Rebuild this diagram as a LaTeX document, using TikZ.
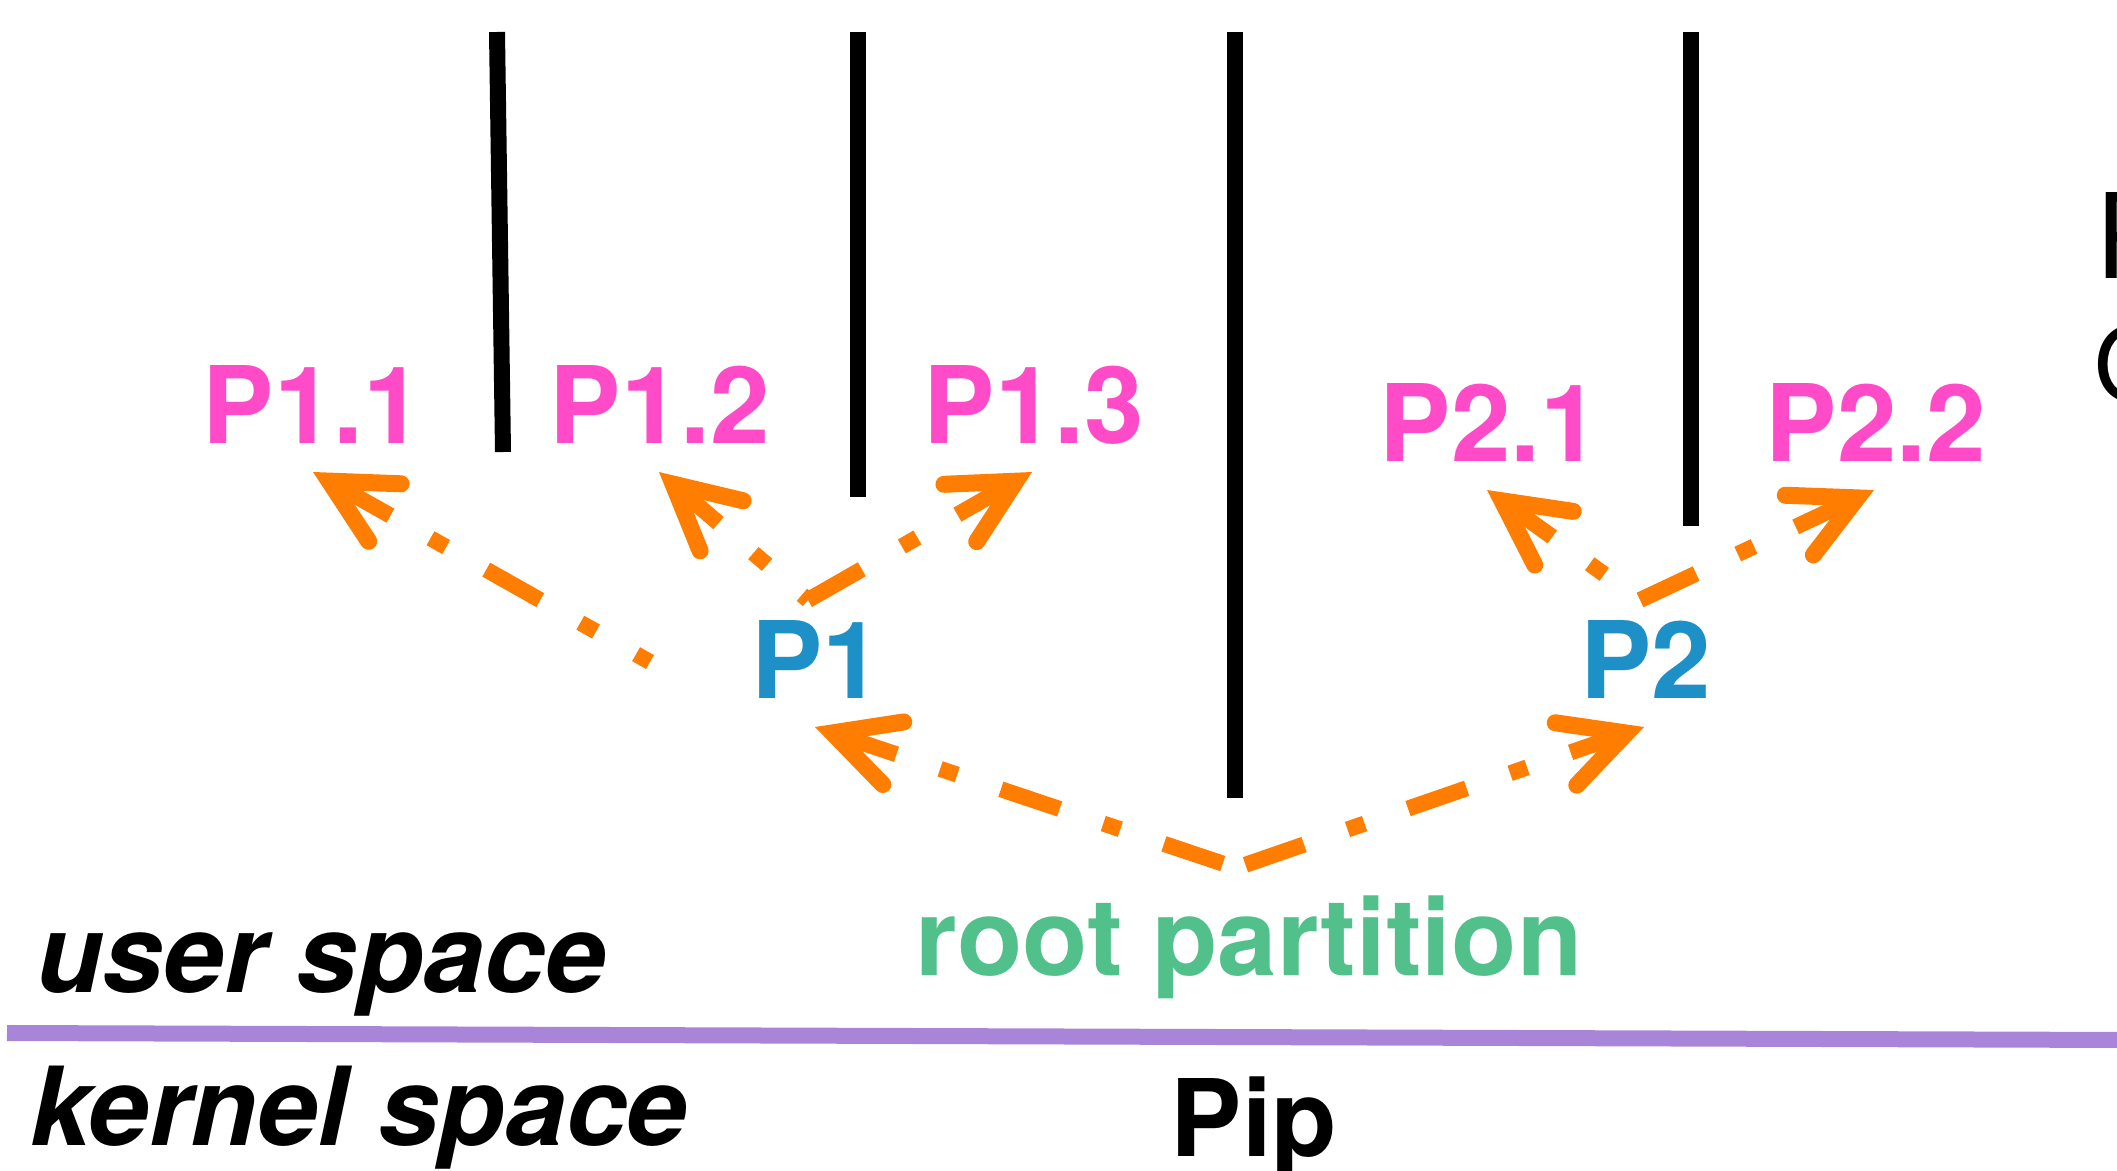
\documentclass[tikz,border=0pt]{standalone}
\usepackage{fontspec}
\setmainfont{TeX Gyre Heros}
\usetikzlibrary{arrows.meta}

\definecolor{partpink}{RGB}{255,75,200}
\definecolor{parentblue}{RGB}{30,144,200}
\definecolor{rootgreen}{RGB}{82,192,138}
\definecolor{linkorange}{RGB}{255,125,0}
\definecolor{splitpurple}{RGB}{168,133,216}

\begin{document}
\begin{tikzpicture}[x=1pt,y=-1pt,
  lbl/.style={inner sep=0pt, anchor=base, font=\fontsize{107pt}{120pt}\selectfont\bfseries},
  childlbl/.style={lbl, text=partpink},
  parentlbl/.style={lbl, text=parentblue},
  spacelbl/.style={inner sep=0pt, anchor=base west, font=\fontsize{109pt}{120pt}\selectfont\bfseries\itshape},
  divider/.style={line width=16pt, black},
  link/.style={draw=linkorange, line width=16pt,
    dash pattern=on 62pt off 46pt on 18pt off 46pt,
    -{Straight Barb[length=64pt, width=66pt, line width=17pt, line cap=round, line join=miter]}},
]
\useasboundingbox (0,0) rectangle (2117,1170);
\clip (0,0) rectangle (2117,1170);

% partition separators
\draw[divider] (497,32) -- (503,452);
\draw[divider] (858,32) -- (858,497);
\draw[divider] (1235,32) -- (1235,798);
\draw[divider] (1691,32) -- (1691,526);

% user / kernel boundary
\draw[splitpurple, line width=16pt] (7,1033) -- (2130,1040);

% labels
\node[childlbl] (p11) at (313,443) {P1.1};
\node[childlbl] (p12) at (660,443) {P1.2};
\node[childlbl] (p13) at (1034,443) {P1.3};
\node[childlbl] (p21) at (1490,461) {P2.1};
\node[childlbl] (p22) at (1876,461) {P2.2};
\node[parentlbl] (p1) at (817,698) {P1};
\node[parentlbl] (p2) at (1646,698) {P2};
\node[lbl, text=rootgreen] (root) at (1249,975) {root partition};
\node[spacelbl] (user) at (36,992) {user space};
\node[spacelbl] (kernel) at (30,1145) {kernel space};
\node[lbl] (pip) at (1254,1156) {Pip};

% text running off the right edge
\node[inner sep=0pt, anchor=base west, font=\fontsize{118pt}{130pt}\selectfont] (edgeA) at (2095,278) {P};
\node[inner sep=0pt, anchor=base west, font=\fontsize{103pt}{120pt}\selectfont] (edgeB) at (2094,401) {O};

% arrow end points
\coordinate (p1a) at (650,662);
\coordinate (p1b) at (808,600);
\coordinate (p2b) at (1640,600);
\coordinate (rootv) at (1236,868);
\coordinate (t11) at (313,472);
\coordinate (t12) at (659,472);
\coordinate (t13) at (1032,472);
\coordinate (t21) at (1487,490);
\coordinate (t22) at (1874,490);
\coordinate (tp1) at (815,727);
\coordinate (tp2) at (1644,727);

% links
\draw[link, dash phase=46pt] (p1a) -- (t11);
\draw[link, dash phase=54pt] (p1b) -- (t12);
\draw[link] (p1b) -- (t13);
\draw[link, dash phase=64pt] (p2b) -- (t21);
\draw[link] (p2b) -- (t22);
\draw[link, dash phase=158pt] (rootv) -- (tp1);
\draw[link, dash phase=162pt] (rootv) -- (tp2);
\end{tikzpicture}
\end{document}
